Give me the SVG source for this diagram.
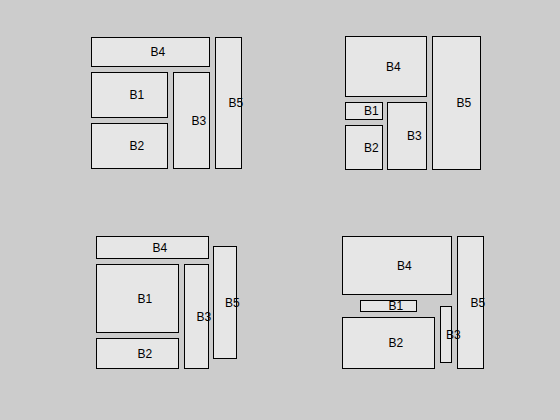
<svg xmlns="http://www.w3.org/2000/svg" width="560" height="420" viewBox="0 0 560 420">
<style>
rect.b{fill:#e6e6e6;stroke:#000;stroke-width:1}
text{font-family:"Liberation Sans",Arial,sans-serif;font-size:12px;fill:#000}
</style>
<rect x="0" y="0" width="560" height="420" fill="#cccccc"/>
<g id="q1">
<g id="q1-B4"><rect class="b" x="91.5" y="37.5" width="118" height="29"/><text x="150.5" y="56.3">B4</text></g>
<g id="q1-B1"><rect class="b" x="91.5" y="72.5" width="76" height="45"/><text x="129.5" y="99.3">B1</text></g>
<g id="q1-B2"><rect class="b" x="91.5" y="123.5" width="76" height="45"/><text x="129.5" y="150.3">B2</text></g>
<g id="q1-B3"><rect class="b" x="173.5" y="72.5" width="36" height="96"/><text x="191.5" y="124.8">B3</text></g>
<g id="q1-B5"><rect class="b" x="215.5" y="37.5" width="26" height="131"/><text x="228.5" y="107.3">B5</text></g>
</g>
<g id="q2">
<g id="q2-B4"><rect class="b" x="345.5" y="36.5" width="81" height="60"/><text x="386" y="70.8">B4</text></g>
<g id="q2-B1"><rect class="b" x="345.5" y="102.5" width="37" height="17"/><text x="364" y="115.3">B1</text></g>
<g id="q2-B2"><rect class="b" x="345.5" y="125.5" width="37" height="44"/><text x="364" y="151.8">B2</text></g>
<g id="q2-B3"><rect class="b" x="387.5" y="102.5" width="39" height="67"/><text x="407" y="140.3">B3</text></g>
<g id="q2-B5"><rect class="b" x="432.5" y="36.5" width="48" height="133"/><text x="456.5" y="107.3">B5</text></g>
</g>
<g id="q3">
<g id="q3-B4"><rect class="b" x="96.5" y="236.5" width="112" height="22"/><text x="152.5" y="251.8">B4</text></g>
<g id="q3-B1"><rect class="b" x="96.5" y="264.5" width="82" height="68"/><text x="137.5" y="302.8">B1</text></g>
<g id="q3-B2"><rect class="b" x="96.5" y="338.5" width="82" height="30"/><text x="137.5" y="357.8">B2</text></g>
<g id="q3-B3"><rect class="b" x="184.5" y="264.5" width="24" height="104"/><text x="196.5" y="320.8">B3</text></g>
<g id="q3-B5"><rect class="b" x="213.5" y="246.5" width="23" height="112"/><text x="225" y="306.8">B5</text></g>
</g>
<g id="q4">
<g id="q4-B4"><rect class="b" x="342.5" y="236.5" width="109" height="58"/><text x="397" y="269.8">B4</text></g>
<g id="q4-B5"><rect class="b" x="457.5" y="236.5" width="26" height="132"/><text x="470.5" y="306.8">B5</text></g>
<g id="q4-B1"><rect class="b" x="360.5" y="300.5" width="56" height="11"/><text x="388.5" y="310.3">B1</text></g>
<g id="q4-B2"><rect class="b" x="342.5" y="317.5" width="92" height="51"/><text x="388.5" y="347.3">B2</text></g>
<g id="q4-B3"><rect class="b" x="440.5" y="306.5" width="11" height="56"/><text x="446" y="338.8">B3</text></g>
</g>
<g id="connectors"/>
</svg>
